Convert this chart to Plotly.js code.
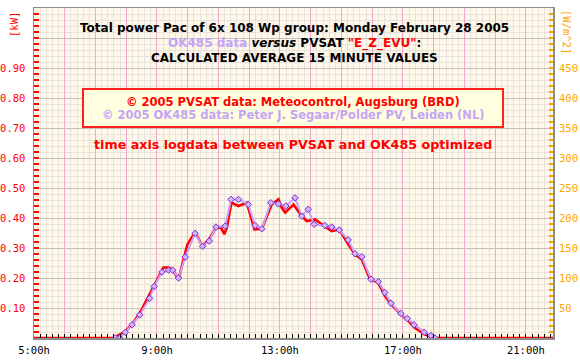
<!DOCTYPE html>
<html>
<head>
<meta charset="utf-8">
<script src="https://cdn.plot.ly/plotly-3.0.1.min.js"></script>
<style>html,body{margin:0;padding:0;background:#fff;}#chart{width:580px;height:360px;}</style>
</head>
<body>
<div id="chart"></div>
<script>
// PVSAT "E_Z_EVU" calculated values (time in decimal hours, power in kW)
const pvsatHours = [5.00, 7.58, 7.97, 8.24, 8.51, 8.78, 8.95, 9.21, 9.38, 9.52, 9.70, 9.99, 10.24, 10.48, 10.73, 10.92, 11.08, 11.19, 11.27, 11.42, 11.65, 11.92, 12.17, 12.41, 12.73, 12.95, 13.06, 13.17, 13.44, 13.71, 13.87, 14.14, 14.36, 14.68, 14.93, 15.22, 15.44, 15.66, 15.93, 16.19, 16.41, 16.61, 16.93, 17.14, 17.36, 17.69, 17.91, 18.07, 22.00];
const pvsatKW    = [0, 0, 0.021, 0.052, 0.096, 0.150, 0.179, 0.235, 0.235, 0.226, 0.196, 0.312, 0.353, 0.305, 0.335, 0.368, 0.368, 0.346, 0.368, 0.451, 0.440, 0.451, 0.362, 0.364, 0.445, 0.462, 0.434, 0.418, 0.445, 0.406, 0.390, 0.395, 0.379, 0.356, 0.362, 0.312, 0.279, 0.262, 0.196, 0.185, 0.141, 0.113, 0.080, 0.061, 0.036, 0.013, 0.004, 0, 0];

// OK485 measured data
const ok485Hours = [7.65, 7.79, 7.97, 8.19, 8.44, 8.76, 8.91, 9.16, 9.38, 9.51, 9.70, 9.92, 10.24, 10.48, 10.70, 10.92, 11.22, 11.41, 11.65, 11.97, 12.19, 12.41, 12.70, 12.95, 13.19, 13.49, 13.71, 13.92, 14.11, 14.46, 14.68, 14.93, 15.22, 15.44, 15.66, 15.96, 16.20, 16.41, 16.61, 16.93, 17.14, 17.36, 17.69, 17.91, 18.04];
const ok485KW    = [0, 0, 0.019, 0.044, 0.077, 0.132, 0.172, 0.220, 0.226, 0.226, 0.200, 0.270, 0.349, 0.305, 0.323, 0.370, 0.373, 0.462, 0.462, 0.445, 0.375, 0.364, 0.451, 0.447, 0.440, 0.467, 0.406, 0.429, 0.379, 0.375, 0.370, 0.360, 0.327, 0.281, 0.271, 0.196, 0.188, 0.152, 0.116, 0.082, 0.065, 0.044, 0.019, 0.008, 0];

// Tick labels
const xTickVals = [5,6,7,8,9,10,11,12,13,14,15,16,17,18,19,20,21];
const xTickText = ['5:00h','','','','9:00h','','','','13:00h','','','','17:00h','','','','21:00h'];
const yTickVals = [0,0.1,0.2,0.3,0.4,0.5,0.6,0.7,0.8,0.9,1.0];
const yTickText = ['','0.10','0.20','0.30','0.40','0.50','0.60','0.70','0.80','0.90',''];
const y2TickVals = [50,100,150,200,250,300,350,400,450];
const y2TickText = ['50','100','150','200','250','300','350','400','450'];

const W = 580, H = 360, L = 34, R = 27, T = 8, B = 22;
const pw = W - L - R, ph = H - T - B;
const px = v => (v - L) / pw;
const py = v => (H - B - v) / ph;

const mono = 'DejaVu Sans Mono, monospace';
const bold = 'DejaVu Sans, Verdana, sans-serif';
const lav = '#C4A4F4';

const traces = [
  {x: pvsatHours, y: pvsatKW, type: 'scatter', mode: 'lines',
   line: {color: '#FF0000', width: 2.6}, hoverinfo: 'skip', showlegend: false},
  {x: ok485Hours, y: ok485KW, type: 'scatter', mode: 'lines+markers',
   line: {color: '#C8A0FF', width: 2},
   marker: {symbol: 'diamond', size: 5, color: '#D4B4FF', line: {color: '#7A2CC8', width: 1}},
   hoverinfo: 'skip', showlegend: false},
  {x: [], y: [], yaxis: 'y2', type: 'scatter', mode: 'lines', showlegend: false, hoverinfo: 'skip'}
];

const layout = {
  width: W, height: H,
  margin: {l: L, r: R, t: T, b: B, pad: 0},
  paper_bgcolor: '#FFFFFF',
  plot_bgcolor: '#FFF7E8',
  showlegend: false,
  hovermode: false,
  xaxis: {
    range: [5, 21.88], fixedrange: true,
    tickmode: 'array', tickvals: xTickVals, ticktext: xTickText,
    ticks: 'inside', ticklen: 4, tickcolor: '#000000',
    tickfont: {family: mono, size: 10.5, color: '#000000'},
    ticklabelstandoff: 2,
    showgrid: true, gridcolor: '#F2A8CC', gridwidth: 1,
    minor: {tick0: 5, dtick: 0.2, ticks: 'inside', ticklen: 4, tickcolor: '#000000',
            showgrid: true, gridcolor: '#E6E2DE', gridwidth: 1},
    showline: true, linecolor: '#8C8C8C', linewidth: 1.5, mirror: true,
    zeroline: false
  },
  yaxis: {
    range: [0, 1.1], fixedrange: true,
    tickmode: 'array', tickvals: yTickVals, ticktext: yTickText,
    ticks: 'inside', ticklen: 5, tickcolor: '#FF0000', tickwidth: 1.5,
    tickfont: {family: mono, size: 10.5, color: '#FF0000'},
    ticklabelstandoff: 5,
    showgrid: true, gridcolor: '#C4C0BC', gridwidth: 1,
    minor: {tick0: 0, dtick: 0.02, ticks: 'inside', ticklen: 5, tickcolor: '#FF0000', tickwidth: 1.5,
            showgrid: true, gridcolor: '#E6E2DE', gridwidth: 1},
    showline: true, linecolor: '#8C8C8C', linewidth: 1.5, mirror: true,
    zeroline: false
  },
  yaxis2: {
    overlaying: 'y', side: 'right', range: [0, 550], fixedrange: true,
    tickmode: 'array', tickvals: y2TickVals, ticktext: y2TickText,
    ticks: 'inside', ticklen: 4, tickcolor: '#FFA500', tickwidth: 1.5,
    tickfont: {family: mono, size: 10.5, color: '#FFA500'},
    ticklabelstandoff: 5,
    showgrid: false, zeroline: false, showline: false,
    minor: {tick0: 0, dtick: 10, ticks: 'inside', ticklen: 4, tickcolor: '#FFA500', tickwidth: 1.5, showgrid: false}
  },
  shapes: [
    {type: 'rect', xref: 'paper', yref: 'paper', x0: px(83), x1: px(503), y0: py(89), y1: py(127),
     fillcolor: '#FFFFE0', line: {color: '#FF2020', width: 2}, layer: 'above'}
  ],
  annotations: [
    {xref: 'paper', yref: 'paper', x: px(294), y: py(28), text: '<b>Total power Pac of 6x 108 Wp group: Monday February 28 2005</b>',
     showarrow: false, font: {family: bold, size: 12, color: '#000000'}, xanchor: 'center', yanchor: 'middle'},
    {xref: 'paper', yref: 'paper', x: px(294), y: py(43),
     text: '<b><span style="color:' + lav + '">OK485 data</span> <i>versus</i> PVSAT <span style="color:#FF0000">"E_Z_EVU"</span>:</b>',
     showarrow: false, font: {family: bold, size: 12, color: '#000000'}, xanchor: 'center', yanchor: 'middle'},
    {xref: 'paper', yref: 'paper', x: px(294), y: py(58), text: '<b>CALCULATED AVERAGE 15 MINUTE VALUES</b>',
     showarrow: false, font: {family: bold, size: 12, color: '#000000'}, xanchor: 'center', yanchor: 'middle'},
    {xref: 'paper', yref: 'paper', x: px(293), y: py(102), text: '<b>© 2005 PVSAT data: Meteocontrol, Augsburg (BRD)</b>',
     showarrow: false, font: {family: bold, size: 11.5, color: '#FF0000'}, xanchor: 'center', yanchor: 'middle'},
    {xref: 'paper', yref: 'paper', x: px(293), y: py(115), text: '<b>© 2005 OK485 data: Peter J. Segaar/Polder PV, Leiden (NL)</b>',
     showarrow: false, font: {family: bold, size: 11.5, color: lav}, xanchor: 'center', yanchor: 'middle'},
    {xref: 'paper', yref: 'paper', x: px(293), y: py(144), text: '<b>time axis logdata between PVSAT and OK485 optimized</b>',
     showarrow: false, font: {family: bold, size: 12.7, color: '#FF0000'}, xanchor: 'center', yanchor: 'middle'},
    {xref: 'paper', yref: 'paper', x: px(14), y: py(25), text: '[kW]', textangle: -90,
     showarrow: false, font: {family: mono, size: 10.5, color: '#FF0000'}, xanchor: 'center', yanchor: 'middle'},
    {xref: 'paper', yref: 'paper', x: px(567), y: py(32), text: '[W/m^2]', textangle: 90,
     showarrow: false, font: {family: mono, size: 10.5, color: '#FFA500'}, xanchor: 'center', yanchor: 'middle'}
  ]
};

Plotly.newPlot('chart', traces, layout, {staticPlot: true, displayModeBar: false});
</script>
</body>
</html>
